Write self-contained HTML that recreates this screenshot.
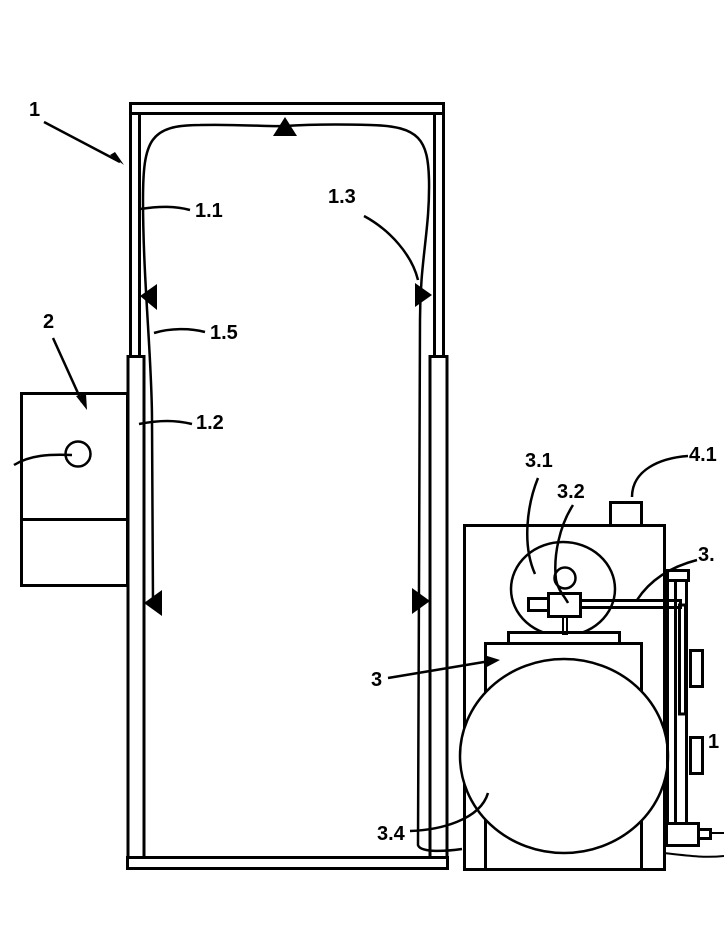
<!DOCTYPE html>
<html><head><style>
html,body{margin:0;padding:0;background:#fff;}
svg{display:block;}
text{font-family:"Liberation Sans",sans-serif;font-weight:bold;font-size:20px;fill:#000;}
</style></head><body>
<svg width="724" height="936" viewBox="0 0 724 936" xmlns="http://www.w3.org/2000/svg">
<g fill="none" stroke="#000" stroke-width="3">
<!-- frame -->
<rect x="130.5" y="103.5" width="313" height="10"/>
<rect x="130.5" y="113.5" width="9" height="243"/>
<rect x="434.5" y="113.5" width="9" height="243"/>
<rect x="128" y="356.5" width="16" height="501"/>
<rect x="430" y="356.5" width="17" height="501"/>
<rect x="127.5" y="857.5" width="320" height="11"/>
<!-- curtain -->
<path d="M153,605 L152,420 C152,360 143,280 143,200 C143,140 150,125 200,125 C240,124 270,127 285,126 C300,125 330,124 370,125 C420,126 428,140 429,180 C430,230 420,260 420,320 L418,845 C420,852 440,852 462,849" stroke-width="2.5"/>
<!-- box 2 -->
<rect x="21.5" y="393.5" width="106" height="192"/>
<line x1="21" y1="519.5" x2="128" y2="519.5"/>
<circle cx="78" cy="454" r="12.5" stroke-width="2.5"/>
<path d="M14,465 C30,455 50,454 72,455" stroke-width="2.5"/>
<!-- machine -->
<rect x="464.5" y="525.5" width="200" height="344"/>
<rect x="610.5" y="502.5" width="31" height="23"/>
<path d="M632,497 C632,470 660,458 688,456" stroke-width="2.5"/>
<ellipse cx="563" cy="589" rx="52" ry="47" stroke-width="2.5"/>
<circle cx="565" cy="578" r="10.5" stroke-width="2.5"/>
<rect x="508.5" y="632.5" width="111" height="11" fill="#fff"/>
<rect x="485.5" y="643.5" width="156" height="226" fill="#fff"/>
<ellipse cx="564" cy="756" rx="104" ry="97" stroke-width="2.5" fill="#fff"/>
<rect x="563" y="616" width="4" height="18" stroke-width="2"/>
<rect x="528.5" y="598.5" width="20" height="12" fill="#fff"/>
<rect x="548.5" y="593.5" width="32" height="23" fill="#fff"/>
<rect x="580.5" y="600.5" width="100" height="7"/>
<!-- right pipes -->
<line x1="667.5" y1="580" x2="667.5" y2="823"/>
<line x1="675.5" y1="580" x2="675.5" y2="823"/>
<line x1="686.5" y1="580" x2="686.5" y2="823"/>
<rect x="679.5" y="605" width="6" height="109"/>
<rect x="667.5" y="570.5" width="21" height="10" fill="#fff"/>
<rect x="690.5" y="650.5" width="12" height="36"/>
<rect x="690.5" y="737.5" width="12" height="36"/>
<rect x="666.5" y="823.5" width="32" height="22" fill="#fff"/>
<rect x="698.5" y="829.5" width="12" height="9"/>
<path d="M664,853 C690,856 705,858 724,856" stroke-width="2"/>
<path d="M710,833 L724,833" stroke-width="2"/>
<!-- leaders -->
<path d="M44,122 L120,162" stroke-width="2.5"/>
<path d="M140,209 C160,206 175,206 190,210" stroke-width="2.5"/>
<path d="M364,216 C390,230 412,255 418,280" stroke-width="2.5"/>
<path d="M154,333 C170,328 190,328 205,332" stroke-width="2.5"/>
<path d="M53,338 L82,402" stroke-width="2.5"/>
<path d="M139,424 C160,420 175,420 192,424" stroke-width="2.5"/>
<path d="M538,478 C527,505 522,545 535,574" stroke-width="2.5"/>
<path d="M573,505 C560,525 553,555 556,580 C558,590 565,597 568,603" stroke-width="2.5"/>
<path d="M637,600 C650,580 670,567 697,560" stroke-width="2.5"/>
<path d="M388,678 L490,661" stroke-width="2.5"/>
<path d="M410,831 C440,830 480,820 488,793" stroke-width="2.5"/>
</g>
<g fill="#000">
<polygon points="110,155 124,165 115,152"/>
<polygon points="76,396 87,410 86,394"/>
<polygon points="484,655 500,660 485,668"/>
<polygon points="273,136 297,136 285,117"/>
<polygon points="140,296 157,284 157,310"/>
<polygon points="432,295 415,283 415,307"/>
<polygon points="144,603 162,590 162,616"/>
<polygon points="430,601 412,588 412,614"/>
</g>
<text x="29" y="116">1</text>
<text x="195" y="217">1.1</text>
<text x="328" y="203">1.3</text>
<text x="210" y="339">1.5</text>
<text x="43" y="328">2</text>
<text x="196" y="429">1.2</text>
<text x="525" y="467">3.1</text>
<text x="557" y="498">3.2</text>
<text x="689" y="461">4.1</text>
<text x="698" y="561">3.</text>
<text x="371" y="686">3</text>
<text x="708" y="748">1</text>
<text x="377" y="840">3.4</text>
</svg>
</body></html>
